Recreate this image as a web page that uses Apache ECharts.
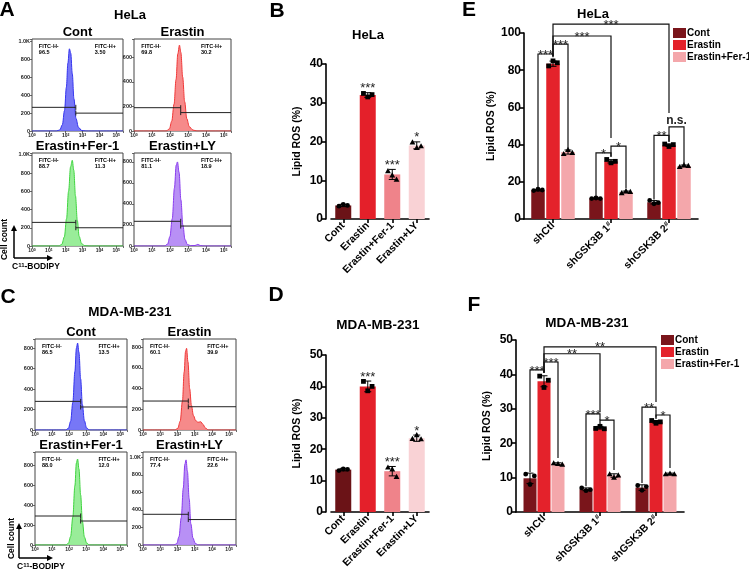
<!DOCTYPE html>
<html><head><meta charset="utf-8">
<script src="https://cdn.jsdelivr.net/npm/echarts@6/dist/echarts.min.js"></script>
<style>html,body{margin:0;padding:0;background:#fff}#c{width:749px;height:574px}</style>
</head><body><div id="c"></div>
<script>
// ================= DATA =================
const histTitles = ['Cont', 'Erastin', 'Erastin+Fer-1', 'Erastin+LY'];
const histTickExp = [0, 1, 2, 3, 4, 5];

// flow histograms: [log10(C11-BODIPY), cell count]
const helaHistCont = [[0,0],[1.45,0],[1.65,12],[1.8,70],[1.93,230],[2.04,490],[2.13,760],[2.22,920],[2.3,870],[2.39,640],[2.49,360],[2.61,140],[2.76,40],[2.95,6],[3.2,0],[5.4,0]];
const helaHistErastin = [[0,0],[1.8,0],[1.97,18],[2.1,80],[2.23,220],[2.34,420],[2.44,630],[2.53,700],[2.61,640],[2.71,440],[2.82,240],[2.94,100],[3.08,35],[3.28,8],[3.5,0],[5.4,0]];
const helaHistFer1 = [[0,0],[1.6,0],[1.77,18],[1.92,100],[2.05,300],[2.17,600],[2.29,870],[2.39,940],[2.48,830],[2.58,550],[2.69,280],[2.8,105],[2.94,28],[3.12,3],[3.4,0],[5.4,0]];
const helaHistLY = [[0,0],[1.7,0],[1.87,18],[2.0,90],[2.13,260],[2.25,550],[2.35,770],[2.42,800],[2.51,700],[2.61,440],[2.72,200],[2.84,62],[2.97,15],[3.15,3],[3.4,5],[3.55,15],[3.7,4],[3.9,0],[5.4,0]];
const mdaHistCont = [[0,0],[1.8,0],[1.96,16],[2.09,85],[2.22,270],[2.34,570],[2.43,800],[2.5,850],[2.58,760],[2.68,500],[2.78,250],[2.9,90],[3.03,20],[3.2,0],[5.4,0]];
const mdaHistErastin = [[0,0],[1.85,0],[2.02,16],[2.16,85],[2.29,280],[2.39,560],[2.47,760],[2.53,790],[2.61,660],[2.71,400],[2.81,240],[2.93,140],[3.06,90],[3.2,75],[3.35,80],[3.48,55],[3.62,20],[3.8,0],[5.4,0]];
const mdaHistFer1 = [[0,0],[1.8,0],[1.96,16],[2.09,85],[2.22,280],[2.34,590],[2.43,820],[2.5,860],[2.58,760],[2.68,500],[2.78,240],[2.9,80],[3.03,20],[3.2,0],[5.4,0]];
const mdaHistLY = [[0,0],[1.8,0],[1.96,16],[2.09,95],[2.22,310],[2.34,650],[2.43,920],[2.5,970],[2.58,840],[2.68,530],[2.78,240],[2.9,80],[3.03,20],[3.2,0],[5.4,0]];

const helaHistMax = [1030, 750, 1020, 885];
const mdaHistMax = [890, 880, 930, 1060];
const helaPctNeg = ['96.5', '69.8', '88.7', '81.1'];
const helaPctPos = ['3.50', '30.2', '11.3', '18.9'];
const mdaPctNeg = ['86.5', '60.1', '88.0', '77.4'];
const mdaPctPos = ['13.5', '39.9', '12.0', '22.6'];
const helaGateNeg = [265, 190, 259, 235];
const helaGatePos = [200, 150, 200, 190];
const helaGateCut = [2.6, 2.6, 2.6, 2.6];
const mdaGateNeg = [280, 280, 290, 350];
const mdaGatePos = [225, 225, 240, 290];
const mdaGateCut = [2.68, 2.63, 2.68, 2.63];

// bar panels B / D
const barCats = ['Cont', 'Erastin', 'Erastin+Fer-1', 'Erastin+LY'];
const helaMeans = [3.5, 32, 11.5, 19];
const helaSD = [0.3, 0.6, 1.3, 0.9];
const helaPts = [[3.3, 3.8, 3.5], [32.4, 31.5, 32.1], [12.4, 11.3, 10.2], [19.8, 18.4, 18.8]];
const helaSig = ['', '***', '***', '*'];
const mdaMeans = [13.5, 40, 13, 23.5];
const mdaSD = [0.4, 1.7, 1.5, 1.0];
const mdaPts = [[13.2, 13.7, 13.6], [41.6, 38.6, 40.0], [14.2, 13.6, 11.2], [23.3, 24.5, 23.2]];
const mdaSig = ['', '***', '***', '*'];

// grouped panels E / F
const groupCats = ['shCtl', 'shGSK3B 1#', 'shGSK3B 2#'];
const treatNames = ['Cont', 'Erastin', 'Erastin+Fer-1'];
const helaKDCont = [15.5, 11.1, 9.0];
const helaKDErastin = [83.5, 31.0, 39.7];
const helaKDFer1 = [36.0, 14.5, 28.5];
const helaKDContSD = [0.4, 0.2, 0.9];
const helaKDErastinSD = [1.4, 0.9, 0.7];
const helaKDFer1SD = [1.1, 0.5, 0.5];
const helaKDContPts = [[15.3, 16.0, 15.6], [11.0, 11.3, 11.0], [10.0, 8.2, 8.8]];
const helaKDErastinPts = [[82.3, 85.0, 84.0], [32.0, 30.2, 31.0], [40.3, 39.0, 40.0]];
const helaKDFer1Pts = [[35.0, 37.2, 35.6], [14.0, 15.0, 14.6], [28.0, 29.0, 28.6]];
// [group1, bar1, group2, bar2, top, leftLegEnd, rightLegEnd]
const helaKDBrackets = [[0,1,2,1,104.8,87.5,57],[0,1,1,1,98.4,87.5,43.5],[0,1,0,2,94,87.5,38],[0,0,0,1,88.7,17,87],[1,0,1,1,35.5,12,33.5],[1,1,1,2,39.2,33.5,16.5],[2,0,2,1,45,10.5,41.5],[2,1,2,2,49.5,41.5,30]];
const helaKDBracketLabels = ['***', '***', '***', '***', '*', '*', '**', 'n.s.'];

const mdaKDCont = [9.8, 6.6, 7.1];
const mdaKDErastin = [38.0, 24.5, 26.2];
const mdaKDFer1 = [14.0, 10.6, 11.1];
const mdaKDContSD = [1.5, 0.4, 0.8];
const mdaKDErastinSD = [1.6, 0.4, 0.4];
const mdaKDFer1SD = [0.3, 0.5, 0.2];
const mdaKDContPts = [[11.0, 8.0, 10.5], [7.0, 6.2, 6.5], [7.7, 6.3, 7.4]];
const mdaKDErastinPts = [[39.5, 36.2, 38.3], [24.3, 24.9, 24.2], [26.6, 25.8, 26.2]];
const mdaKDFer1Pts = [[14.2, 14.0, 13.8], [11.0, 10.0, 10.7], [11.0, 11.2, 11.0]];
const mdaKDBrackets = [[0,1,2,1,48,40.5,32],[0,1,1,1,46,40.5,29],[0,1,0,2,43.6,40.5,15.7],[0,0,0,1,41.3,11.6,40.5],[1,0,1,1,28.5,7.5,26.7],[1,1,1,2,26.7,25.5,12.2],[2,0,2,1,30.5,8.4,27.5],[2,1,2,2,28.2,27.0,12.8]];
const mdaKDBracketLabels = ['**', '**', '***', '***', '***', '*', '**', '*'];

// ================= LAYOUT / STYLE =================
const FONT = '"Liberation Sans", Arial, Helvetica, sans-serif';
const chart = echarts.init(document.getElementById('c'), null, {renderer: 'canvas', width: 749, height: 574});
const grids = [], xAxes = [], yAxes = [], series = [], graphics = [];

function txt(x, y, text, size, opts) {
  opts = opts || {};
  graphics.push({
    type: 'text', x: x, y: y, rotation: opts.rotation || 0, silent: true,
    style: {text: text, font: (opts.weight || 'bold') + ' ' + size + 'px ' + FONT, fill: opts.color || '#000',
      textAlign: opts.align || 'center', textVerticalAlign: opts.valign || 'middle',
      lineHeight: opts.lineHeight, rich: opts.rich}
  });
}

const histColors = [
  ['#3434ee', 'rgba(112,112,246,0.95)'],
  ['#f03838', 'rgba(246,132,132,0.95)'],
  ['#3fd43f', 'rgba(148,236,148,0.95)'],
  ['#8a3cee', 'rgba(180,138,244,0.95)']
];

function addHist(box, pts, ymax, colIdx, gNeg, gPos, cut, title, pNeg, pPos) {
  const gi = grids.length;
  const xmax = 5.4;
  grids.push({left: box[0], top: box[1], width: box[2], height: box[3], show: true, borderColor: '#444', borderWidth: 1});
  xAxes.push({
    type: 'value', gridIndex: gi, min: 0, max: xmax, interval: 1,
    axisLine: {show: false}, splitLine: {show: false},
    axisTick: {show: true, length: 2, lineStyle: {color: '#444', width: 0.8}},
    axisLabel: {margin: 2, formatter: v => (histTickExp.indexOf(v) >= 0 ? '{b|10}{s|' + v + '}' : ''),
      rich: {b: {fontSize: 5, fontFamily: FONT, fontWeight: 'bold', color: '#222'},
             s: {fontSize: 3.5, fontFamily: FONT, fontWeight: 'bold', color: '#222', verticalAlign: 'top'}}}
  });
  yAxes.push({
    type: 'value', gridIndex: gi, min: 0, max: ymax, interval: 200,
    axisLine: {show: false}, splitLine: {show: false},
    axisTick: {show: true, length: 2, lineStyle: {color: '#444', width: 0.8}},
    axisLabel: {margin: 2, fontSize: 5.5, fontWeight: 'bold', fontFamily: FONT, color: '#222',
      formatter: v => (v % 200 !== 0 ? '' : (v >= 1000 ? (v / 1000).toFixed(1) + 'K' : String(v)))}
  });
  series.push({
    type: 'line', xAxisIndex: gi, yAxisIndex: gi, data: pts, smooth: 0.35, smoothMonotone: 'x',
    showSymbol: false, silent: true, z: 2,
    lineStyle: {color: histColors[colIdx][0], width: 1}, areaStyle: {color: histColors[colIdx][1], opacity: 1}
  });
  series.push({
    type: 'custom', xAxisIndex: gi, yAxisIndex: gi, silent: true, z: 3,
    data: [[0, cut, gNeg, cut], [cut, xmax, gPos, cut]],
    encode: {x: [0, 1], y: 2},
    renderItem: (p, api) => {
      const a = api.coord([api.value(0), api.value(2)]);
      const b = api.coord([api.value(1), api.value(2)]);
      const c = api.coord([api.value(3), api.value(2)]);
      return {type: 'group', children: [
        {type: 'line', shape: {x1: a[0], y1: a[1], x2: b[0], y2: b[1]}, style: {stroke: '#222', lineWidth: 1}},
        {type: 'line', shape: {x1: c[0], y1: c[1] - 2.5, x2: c[0], y2: c[1] + 2.5}, style: {stroke: '#222', lineWidth: 1}}
      ]};
    }
  });
  txt(box[0] + box[2] / 2, box[1] - 7, title, 13);
  txt(box[0] + box[2] * 0.075, box[1] + 4, 'FITC-H-\n' + pNeg, 5.5, {align: 'left', valign: 'top', lineHeight: 6.5});
  txt(box[0] + box[2] * 0.69, box[1] + 4, 'FITC-H+\n' + pPos, 5.5, {align: 'left', valign: 'top', lineHeight: 6.5});
}

const helaBoxes = [[32, 39, 91, 92], [134, 39, 97, 92], [32, 153, 91, 93], [134, 153, 97, 93]];
const mdaBoxes = [[35, 339, 92, 91], [143, 339, 93, 91], [35, 452, 92, 93], [143, 452, 93, 93]];
[helaHistCont, helaHistErastin, helaHistFer1, helaHistLY].forEach((d, i) =>
  addHist(helaBoxes[i], d, helaHistMax[i], i, helaGateNeg[i], helaGatePos[i], helaGateCut[i], histTitles[i], helaPctNeg[i], helaPctPos[i]));
[mdaHistCont, mdaHistErastin, mdaHistFer1, mdaHistLY].forEach((d, i) =>
  addHist(mdaBoxes[i], d, mdaHistMax[i], i, mdaGateNeg[i], mdaGatePos[i], mdaGateCut[i], histTitles[i], mdaPctNeg[i], mdaPctPos[i]));

// ---- common bar axis styles ----
function yAxisBar(gi, ymax, interval, nameGap, offset) {
  return {
    type: 'value', gridIndex: gi, min: 0, max: ymax, interval: interval, offset: offset || 0,
    axisLine: {show: true, lineStyle: {color: '#000', width: 1.6}},
    axisTick: {show: true, length: 4, lineStyle: {color: '#000', width: 1.6}},
    axisLabel: {color: '#000', fontSize: 12, fontWeight: 'bold', fontFamily: FONT, margin: 3},
    splitLine: {show: false},
    name: 'Lipid ROS (%)', nameLocation: 'middle', nameGap: nameGap,
    nameTextStyle: {fontSize: 10.5, fontWeight: 'bold', color: '#000', fontFamily: FONT}
  };
}
function xAxisBar(gi, cats) {
  return {
    type: 'category', gridIndex: gi, data: cats,
    axisLine: {show: true, lineStyle: {color: '#000', width: 1.6}},
    axisTick: {show: true, alignWithLabel: true, length: 4, lineStyle: {color: '#000', width: 1.6}},
    axisLabel: {rotate: 45, interval: 0, margin: 5, color: '#000', fontSize: 10.5, fontWeight: 'bold', fontFamily: FONT,
      formatter: v => v.replace('#', '{s|#}'),
      rich: {s: {fontSize: 7, fontWeight: 'bold', fontFamily: FONT, color: '#000', verticalAlign: 'top'}}}
  };
}

function symbolShape(sh, x, y) {
  let el;
  if (sh === 0) el = {type: 'circle', shape: {cx: x, cy: y, r: 2.4}};
  else if (sh === 1) el = {type: 'rect', shape: {x: x - 2.4, y: y - 2.4, width: 4.8, height: 4.8}};
  else el = {type: 'polygon', shape: {points: [[x, y - 3], [x - 2.9, y + 2.2], [x + 2.9, y + 2.2]]}};
  el.style = {fill: '#000'};
  return el;
}

function errorSeries(gi, data, step, sigArr) {
  return {
    type: 'custom', xAxisIndex: gi, yAxisIndex: gi, silent: true, z: 4, data: data, encode: {x: 0, y: 2},
    renderItem: (p, api) => {
      const g = api.value(0), k = api.value(1), m = api.value(2), s = api.value(3);
      const x = api.coord([g, m])[0] + k * step;
      const yt = api.coord([g, m + s])[1], yb = api.coord([g, m - s])[1];
      const ch = [
        {type: 'line', shape: {x1: x, y1: yt, x2: x, y2: yb}, style: {stroke: '#000', lineWidth: 1}},
        {type: 'line', shape: {x1: x - 3.5, y1: yt, x2: x + 3.5, y2: yt}, style: {stroke: '#000', lineWidth: 1}},
        {type: 'line', shape: {x1: x - 3.5, y1: yb, x2: x + 3.5, y2: yb}, style: {stroke: '#000', lineWidth: 1}}
      ];
      if (sigArr && sigArr[p.dataIndex]) {
        ch.push({type: 'text', x: x, y: yt - 4, style: {text: sigArr[p.dataIndex], font: '13px ' + FONT, fill: '#222', textAlign: 'center', textVerticalAlign: 'middle'}});
      }
      return {type: 'group', children: ch};
    }
  };
}
function pointSeries(gi, data, step) {
  return {
    type: 'custom', xAxisIndex: gi, yAxisIndex: gi, silent: true, z: 5, data: data, encode: {x: 0, y: 2},
    renderItem: (p, api) => {
      const g = api.value(0), k = api.value(1), v = api.value(2), j = api.value(3), sh = api.value(4);
      const c = api.coord([g, v]);
      return symbolShape(sh, c[0] + k * step + j * 4.3, c[1]);
    }
  };
}

// ---- B / D ----
const singleColors = ['#6b1317', '#e4202a', '#ef838a', '#f9d2d5'];
const singleShapes = [0, 1, 2, 2];
function addSinglePanel(box, ymax, means, sd, pts, sig, name) {
  const gi = grids.length;
  grids.push({left: box[0], top: box[1], width: box[2], height: box[3]});
  xAxes.push(xAxisBar(gi, barCats));
  yAxes.push(yAxisBar(gi, ymax, 10, 23, 5));
  series.push({
    type: 'bar', name: name, xAxisIndex: gi, yAxisIndex: gi, barWidth: 16, silent: true, z: 2,
    data: means.map((v, i) => ({value: v, itemStyle: {color: singleColors[i]}}))
  });
  series.push(errorSeries(gi, means.map((m, i) => [i, 0, m, sd[i]]), 0, sig));
  const pd = [];
  pts.forEach((arr, i) => arr.forEach((v, j) => pd.push([i, 0, v, j - 1, singleShapes[i]])));
  series.push(pointSeries(gi, pd, 0));
}
addSinglePanel([331, 64, 98, 155], 40, helaMeans, helaSD, helaPts, helaSig, 'HeLa ROS');
addSinglePanel([331, 355, 98, 157], 50, mdaMeans, mdaSD, mdaPts, mdaSig, 'MDA ROS');

// ---- E / F ----
const groupColors = ['#7a151b', '#e4222b', '#f4a7ab'];
function addGroupPanel(box, ymax, interval, nameGap, means, sds, ptsArr, barW, step, brackets, blabels) {
  const gi = grids.length;
  grids.push({left: box[0], top: box[1], width: box[2], height: box[3]});
  xAxes.push(xAxisBar(gi, groupCats));
  yAxes.push(yAxisBar(gi, ymax, interval, nameGap, 0));
  const gap = ((step - barW) / barW * 100).toFixed(1) + '%';
  means.forEach((arr, k) => series.push({
    type: 'bar', name: treatNames[k], xAxisIndex: gi, yAxisIndex: gi, barWidth: barW, barGap: gap, silent: true, z: 2,
    itemStyle: {color: groupColors[k]}, data: arr
  }));
  const ed = [], pd = [];
  means.forEach((arr, k) => arr.forEach((m, g) => {
    ed.push([g, k - 1, m, sds[k][g]]);
    ptsArr[k][g].forEach((v, j) => pd.push([g, k - 1, v, j - 1, k]));
  }));
  series.push(errorSeries(gi, ed, step, null));
  series.push(pointSeries(gi, pd, step));
  series.push({
    type: 'custom', xAxisIndex: gi, yAxisIndex: gi, silent: true, z: 6, data: brackets, encode: {x: 0, y: 4},
    renderItem: (p, api) => {
      const x1 = api.coord([api.value(0), 0])[0] + (api.value(1) - 1) * step;
      const x2 = api.coord([api.value(2), 0])[0] + (api.value(3) - 1) * step;
      const yt = api.coord([0, api.value(4)])[1];
      const yl = api.coord([0, api.value(5)])[1];
      const yr = api.coord([0, api.value(6)])[1];
      const lab = blabels[p.dataIndex];
      const ns = lab === 'n.s.';
      return {type: 'group', children: [
        {type: 'polyline', shape: {points: [[x1, yl], [x1, yt], [x2, yt], [x2, yr]]}, style: {stroke: '#111', lineWidth: 1.2, fill: null}},
        {type: 'text', x: (x1 + x2) / 2, y: ns ? yt - 6 : yt + 1,
          style: {text: lab, font: (ns ? 'bold 12px ' : '13px ') + FONT, fill: '#222', textAlign: 'center', textVerticalAlign: 'middle'}}
      ]};
    }
  });
}
addGroupPanel([524, 33, 174, 186], 100, 20, 26,
  [helaKDCont, helaKDErastin, helaKDFer1], [helaKDContSD, helaKDErastinSD, helaKDFer1SD],
  [helaKDContPts, helaKDErastinPts, helaKDFer1Pts], 13.5, 15, helaKDBrackets, helaKDBracketLabels);
addGroupPanel([516, 340, 168, 172], 50, 10, 23,
  [mdaKDCont, mdaKDErastin, mdaKDFer1], [mdaKDContSD, mdaKDErastinSD, mdaKDFer1SD],
  [mdaKDContPts, mdaKDErastinPts, mdaKDFer1Pts], 13, 14, mdaKDBrackets, mdaKDBracketLabels);

// ---- text / decorations ----
txt(7, 10, 'A', 21); txt(277, 11, 'B', 21); txt(469, 10, 'E', 21);
txt(8, 297, 'C', 21); txt(276, 295, 'D', 21); txt(474, 305, 'F', 21);
txt(130, 15, 'HeLa', 13); txt(130, 312, 'MDA-MB-231', 13.5);
txt(368, 35, 'HeLa', 13); txt(378, 325, 'MDA-MB-231', 13.5);
txt(593, 14, 'HeLa', 13); txt(587, 323, 'MDA-MB-231', 13.5);

function arrows(x0, y0, yTop, xRight, textY, countX) {
  graphics.push({type: 'line', silent: true, shape: {x1: x0, y1: y0, x2: x0, y2: yTop + 4}, style: {stroke: '#000', lineWidth: 1.5}});
  graphics.push({type: 'polygon', silent: true, shape: {points: [[x0, yTop], [x0 - 3, yTop + 6], [x0 + 3, yTop + 6]]}, style: {fill: '#000'}});
  graphics.push({type: 'line', silent: true, shape: {x1: x0, y1: y0, x2: xRight - 4, y2: y0}, style: {stroke: '#000', lineWidth: 1.5}});
  graphics.push({type: 'polygon', silent: true, shape: {points: [[xRight, y0], [xRight - 6, y0 - 3], [xRight - 6, y0 + 3]]}, style: {fill: '#000'}});
  txt(countX, (y0 + yTop) / 2 - 2, 'Cell count', 8.5, {rotation: Math.PI / 2});
  txt(x0 - 2, textY, 'C{s|11}-BODIPY', 8.5, {align: 'left', rich: {s: {fontSize: 6, fontWeight: 'bold', fontFamily: FONT, verticalAlign: 'top'}}});
}
arrows(14, 258, 225, 53, 267, 5);
arrows(19, 558, 523, 53, 567, 12);

chart.setOption({
  animation: false,
  backgroundColor: '#fff',
  grid: grids, xAxis: xAxes, yAxis: yAxes, series: series,
  legend: [
    {data: treatNames, orient: 'vertical', left: 673, top: 28, itemWidth: 13, itemHeight: 10, itemGap: 2, selectedMode: false, icon: 'rect', padding: 0,
      textStyle: {fontSize: 10, fontWeight: 'bold', fontFamily: FONT, color: '#000', padding: [0, 0, 0, -4]}},
    {data: treatNames, orient: 'vertical', left: 661, top: 335, itemWidth: 13, itemHeight: 10, itemGap: 2, selectedMode: false, icon: 'rect', padding: 0,
      textStyle: {fontSize: 10, fontWeight: 'bold', fontFamily: FONT, color: '#000', padding: [0, 0, 0, -4]}}
  ],
  graphic: graphics
});
</script>
</body></html>
